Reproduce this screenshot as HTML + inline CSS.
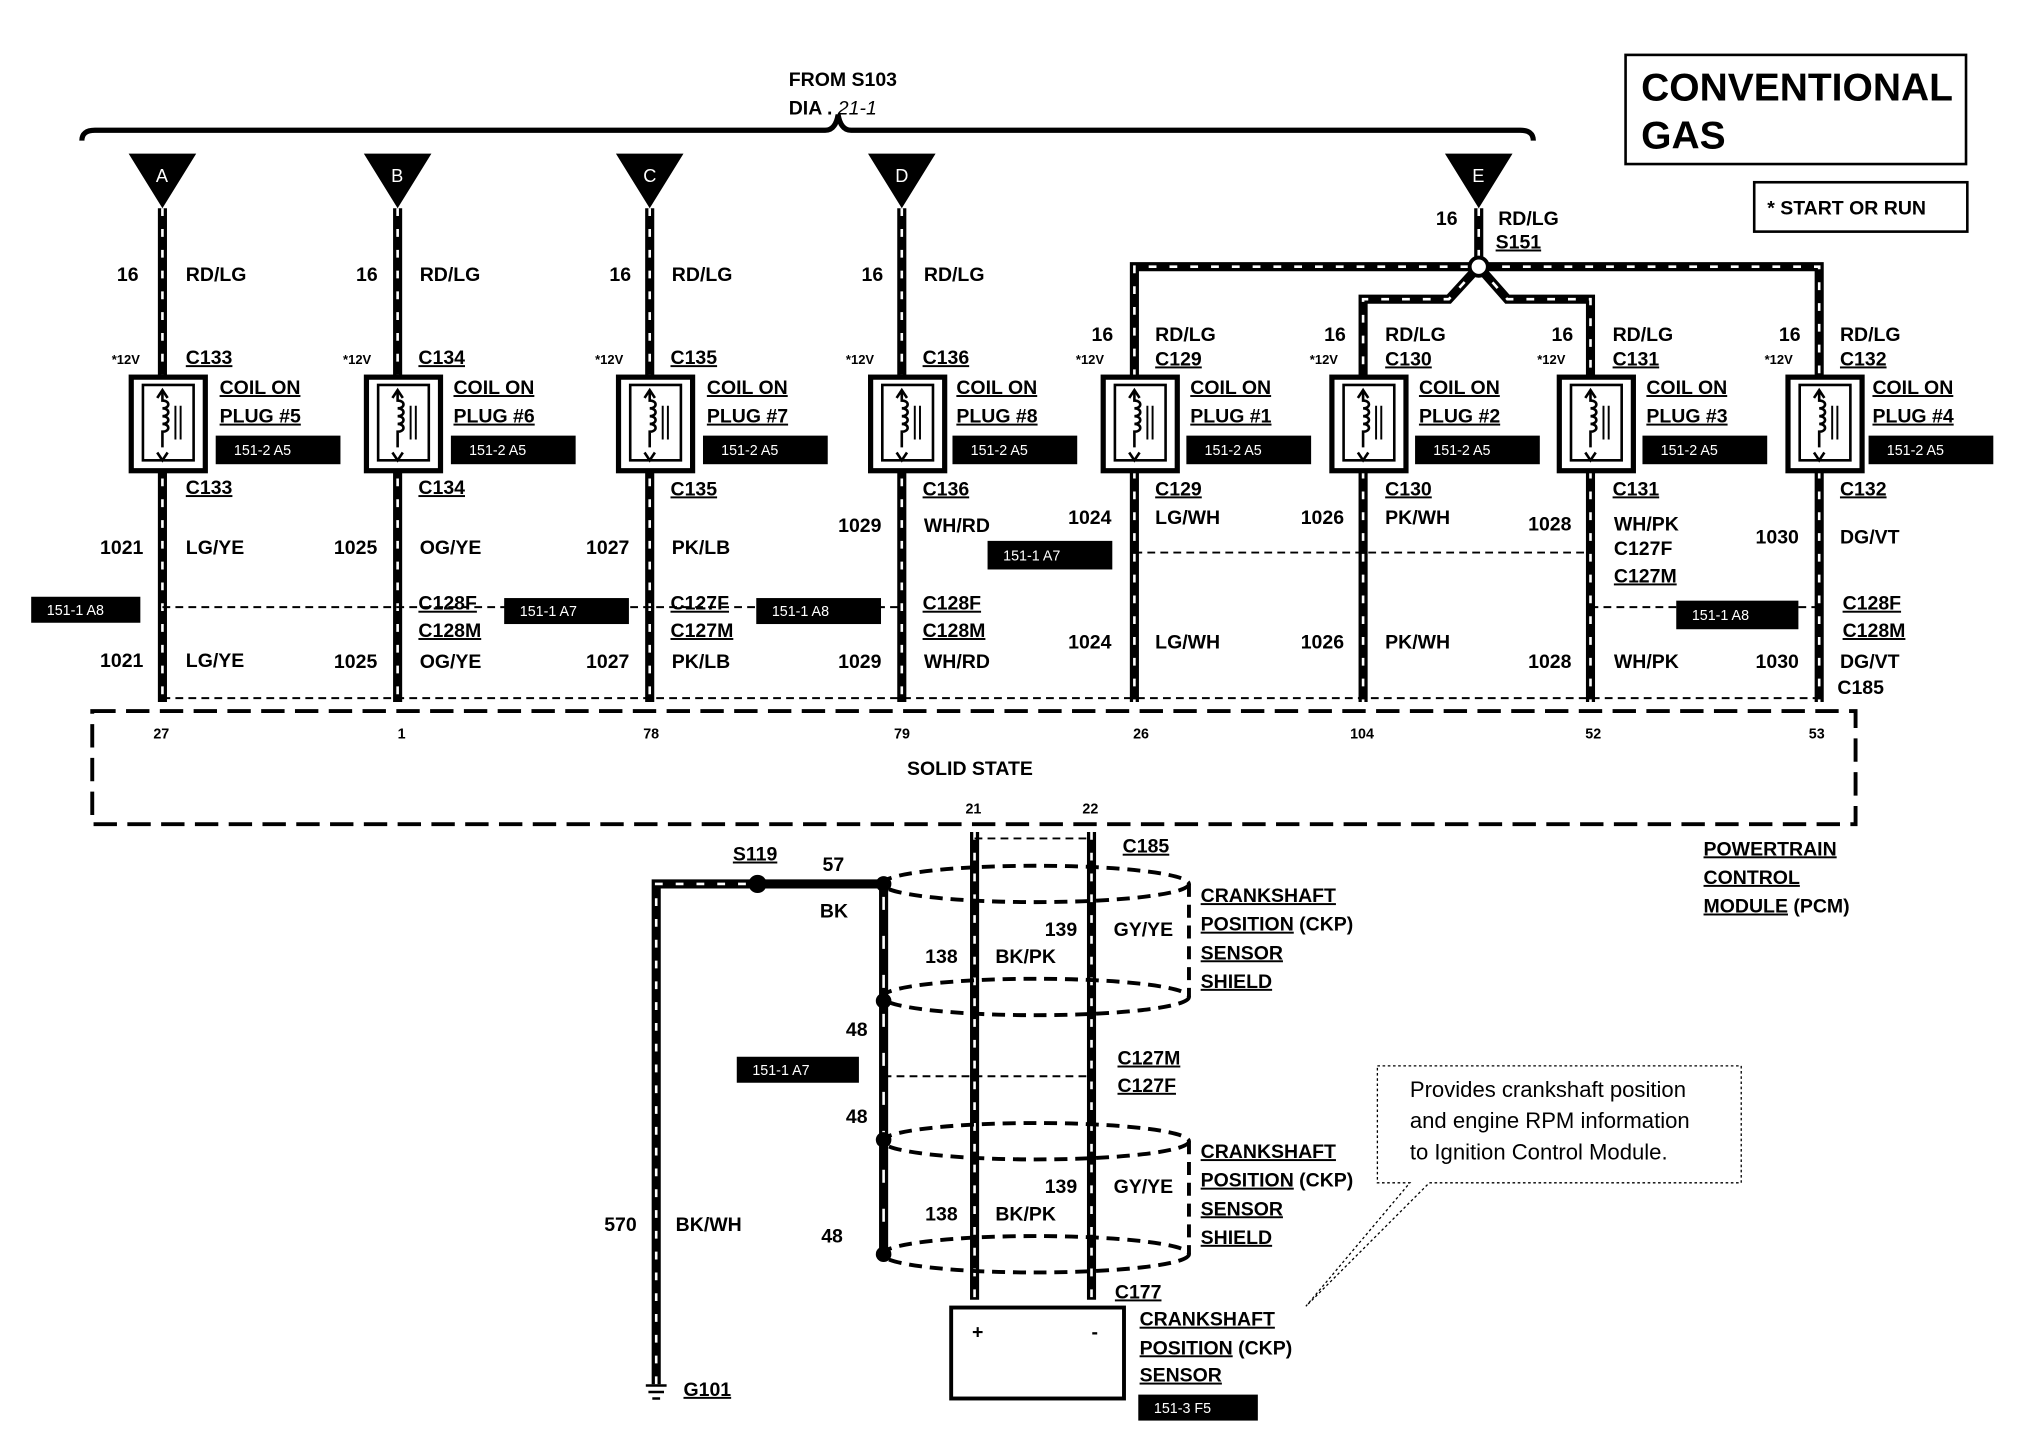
<!DOCTYPE html>
<html><head><meta charset="utf-8"><style>
html,body{margin:0;padding:0;background:#fff}
svg{display:block}
text{font-family:"Liberation Sans",sans-serif;font-weight:bold;fill:#000}
.s{font-size:15px}
.t{font-size:11px;fill:#fff;font-weight:normal}
.u{text-decoration:underline}
</style></head><body>
<svg width="2018" height="1456" viewBox="0 0 1553 1120" xmlns="http://www.w3.org/2000/svg">
<defs>
<g id="coil">
<rect x="-24" y="0" width="57" height="72" fill="#fff" stroke="#000" stroke-width="4"/>
<rect x="-15" y="6" width="39" height="58" fill="none" stroke="#000" stroke-width="2"/>
<path d="M0,10 v8 c6,0 6,6 0,6 c6,0 6,6 0,6 c6,0 6,6 0,6 c6,0 6,6 0,6 v12" fill="none" stroke="#000" stroke-width="2"/>
<path d="M10,22 v26 M14,22 v26" stroke="#000" stroke-width="1.5"/>
<path d="M-4,16 l4,-6 l4,6 M-4,58 l4,6 l4,-6" fill="none" stroke="#000" stroke-width="2"/>
</g>
</defs>
<rect width="1553" height="1120" fill="#fff"/>

<!-- header -->
<text x="607" y="66" class="s">FROM S103</text>
<text x="607" y="88" class="s">DIA . <tspan font-style="italic" font-weight="normal">21-1</tspan></text>
<path d="M63,108 q0,-8 10,-8 H635 q8,0 10,-12 q2,12 10,12 H1170 q10,0 10,8" fill="none" stroke="#000" stroke-width="4"/>
<rect x="1251" y="42" width="262" height="84" fill="none" stroke="#000" stroke-width="2"/>
<text x="1263" y="77" font-size="30">CONVENTIONAL</text>
<text x="1263" y="114" font-size="30">GAS</text>
<rect x="1350" y="140" width="164" height="38" fill="none" stroke="#000" stroke-width="2"/>
<text x="1360" y="165" class="s">* START OR RUN</text>

<!-- wires style groups -->
<g stroke="#000" stroke-width="7" fill="none">
<path d="M125,160V540 M306,160V540 M500,160V540 M694,160V540 M1138,160V205"/>
<path d="M873,290V205H1400V290 M1138,205L1115,230H1049V290 M1138,205L1160,230H1224V290"/>
<path d="M873,362V540 M1049,362V540 M1224,362V540 M1400,362V540"/>
<path d="M750,640V1000 M840,640V1000 M505,1065V680H680 M680,680V965"/>
</g>
<g stroke="#fff" stroke-width="2" fill="none" stroke-dasharray="6 10">
<path d="M125,160V540 M306,160V540 M500,160V540 M694,160V540 M1138,160V205"/>
<path d="M873,290V205H1400V290 M1138,205L1115,230H1049V290 M1138,205L1160,230H1224V290"/>
<path d="M873,362V540 M1049,362V540 M1224,362V540 M1400,362V540"/>
<path d="M750,640V1000 M840,640V1000 M505,1065V680H580"/>
<path d="M680,690V965" stroke-dasharray="10 20"/>
</g>
<circle cx="1138" cy="205" r="7" fill="#fff" stroke="#000" stroke-width="3"/>
<circle cx="583" cy="680" r="7" fill="#000"/>

<!-- triangles -->
<g fill="#000">
<path d="M99,118h52l-26,42z M280,118h52l-26,42z M474,118h52l-26,42z M668,118h52l-26,42z M1112,118h52l-26,42z"/>
</g>
<g fill="#fff" font-size="14" font-weight="normal">
<text x="120" y="140" style="fill:#fff;font-weight:normal">A</text>
<text x="301" y="140" style="fill:#fff;font-weight:normal">B</text>
<text x="495" y="140" style="fill:#fff;font-weight:normal">C</text>
<text x="689" y="140" style="fill:#fff;font-weight:normal">D</text>
<text x="1133" y="140" style="fill:#fff;font-weight:normal">E</text>
</g>

<!-- coils -->
<use href="#coil" x="125" y="290"/>
<use href="#coil" x="306" y="290"/>
<use href="#coil" x="500" y="290"/>
<use href="#coil" x="694" y="290"/>
<use href="#coil" x="873" y="290"/>
<use href="#coil" x="1049" y="290"/>
<use href="#coil" x="1224" y="290"/>
<use href="#coil" x="1400" y="290"/>

<!-- connector dashed lines -->
<g stroke="#000" stroke-width="1.5" stroke-dasharray="6 4" fill="none">
<path d="M125,467H694 M873,425H1224 M1224,467H1400 M125,537H1400"/>
</g>
<rect x="71" y="547" width="1357" height="87" fill="none" stroke="#000" stroke-width="3" stroke-dasharray="18 8"/>

<!-- top column labels -->
<g class="s">
<text x="90" y="216" class="s">16</text><text x="143" y="216" class="s">RD/LG</text>
<text x="274" y="216" class="s">16</text><text x="323" y="216" class="s">RD/LG</text>
<text x="469" y="216" class="s">16</text><text x="517" y="216" class="s">RD/LG</text>
<text x="663" y="216" class="s">16</text><text x="711" y="216" class="s">RD/LG</text>
<text x="1105" y="173" class="s">16</text><text x="1153" y="173" class="s">RD/LG</text><text x="1151" y="191" class="s u">S151</text>
<text x="840" y="262" class="s">16</text><text x="889" y="262" class="s">RD/LG</text>
<text x="1019" y="262" class="s">16</text><text x="1066" y="262" class="s">RD/LG</text>
<text x="1194" y="262" class="s">16</text><text x="1241" y="262" class="s">RD/LG</text>
<text x="1369" y="262" class="s">16</text><text x="1416" y="262" class="s">RD/LG</text>
</g>
<g font-size="10" font-weight="bold">
<text x="86" y="280">*12V</text><text x="264" y="280">*12V</text><text x="458" y="280">*12V</text><text x="651" y="280">*12V</text>
<text x="828" y="280">*12V</text><text x="1008" y="280">*12V</text><text x="1183" y="280">*12V</text><text x="1358" y="280">*12V</text>
</g>
<g>
<text x="143" y="280" class="s u">C133</text><text x="322" y="280" class="s u">C134</text><text x="516" y="280" class="s u">C135</text><text x="710" y="280" class="s u">C136</text>
<text x="889" y="281" class="s u">C129</text><text x="1066" y="281" class="s u">C130</text><text x="1241" y="281" class="s u">C131</text><text x="1416" y="281" class="s u">C132</text>
</g>
<!-- coil labels -->
<g>
<text x="169" y="303" class="s u">COIL ON</text><text x="169" y="325" class="s u">PLUG #5</text>
<text x="349" y="303" class="s u">COIL ON</text><text x="349" y="325" class="s u">PLUG #6</text>
<text x="544" y="303" class="s u">COIL ON</text><text x="544" y="325" class="s u">PLUG #7</text>
<text x="736" y="303" class="s u">COIL ON</text><text x="736" y="325" class="s u">PLUG #8</text>
<text x="916" y="303" class="s u">COIL ON</text><text x="916" y="325" class="s u">PLUG #1</text>
<text x="1092" y="303" class="s u">COIL ON</text><text x="1092" y="325" class="s u">PLUG #2</text>
<text x="1267" y="303" class="s u">COIL ON</text><text x="1267" y="325" class="s u">PLUG #3</text>
<text x="1441" y="303" class="s u">COIL ON</text><text x="1441" y="325" class="s u">PLUG #4</text>
</g>
<g fill="#000">
<rect x="166" y="335" width="96" height="22"/><rect x="347" y="335" width="96" height="22"/>
<rect x="541" y="335" width="96" height="22"/><rect x="733" y="335" width="96" height="22"/>
<rect x="913" y="335" width="96" height="22"/><rect x="1089" y="335" width="96" height="22"/>
<rect x="1264" y="335" width="96" height="22"/><rect x="1438" y="335" width="96" height="22"/>
<rect x="24" y="459" width="84" height="20"/><rect x="388" y="460" width="96" height="20"/>
<rect x="582" y="460" width="96" height="20"/><rect x="760" y="416" width="96" height="22"/>
<rect x="1290" y="462" width="94" height="22"/><rect x="567" y="813" width="94" height="20"/>
<rect x="876" y="1073" width="92" height="20"/>
</g>
<g>
<text x="180" y="350" class="t">151-2 A5</text><text x="361" y="350" class="t">151-2 A5</text>
<text x="555" y="350" class="t">151-2 A5</text><text x="747" y="350" class="t">151-2 A5</text>
<text x="927" y="350" class="t">151-2 A5</text><text x="1103" y="350" class="t">151-2 A5</text>
<text x="1278" y="350" class="t">151-2 A5</text><text x="1452" y="350" class="t">151-2 A5</text>
<text x="36" y="473" class="t">151-1 A8</text><text x="400" y="474" class="t">151-1 A7</text>
<text x="594" y="474" class="t">151-1 A8</text><text x="772" y="431" class="t">151-1 A7</text>
<text x="1302" y="477" class="t">151-1 A8</text><text x="579" y="827" class="t">151-1 A7</text>
<text x="888" y="1087" class="t">151-3 F5</text>
</g>

<!-- lower labels -->
<g>
<text x="143" y="380" class="s u">C133</text><text x="322" y="380" class="s u">C134</text><text x="516" y="381" class="s u">C135</text><text x="710" y="381" class="s u">C136</text>
<text x="889" y="381" class="s u">C129</text><text x="1066" y="381" class="s u">C130</text><text x="1241" y="381" class="s u">C131</text><text x="1416" y="381" class="s u">C132</text>
<text x="77" y="426" class="s">1021</text><text x="143" y="426" class="s">LG/YE</text>
<text x="257" y="426" class="s">1025</text><text x="323" y="426" class="s">OG/YE</text>
<text x="451" y="426" class="s">1027</text><text x="517" y="426" class="s">PK/LB</text>
<text x="645" y="409" class="s">1029</text><text x="711" y="409" class="s">WH/RD</text>
<text x="822" y="403" class="s">1024</text><text x="889" y="403" class="s">LG/WH</text>
<text x="1001" y="403" class="s">1026</text><text x="1066" y="403" class="s">PK/WH</text>
<text x="1176" y="408" class="s">1028</text><text x="1242" y="408" class="s">WH/PK</text>
<text x="1242" y="427" class="s">C127F</text><text x="1242" y="448" class="s u">C127M</text>
<text x="1351" y="418" class="s">1030</text><text x="1416" y="418" class="s">DG/VT</text>
<text x="322" y="469" class="s u">C128F</text><text x="322" y="490" class="s u">C128M</text>
<text x="516" y="469" class="s u">C127F</text><text x="516" y="490" class="s u">C127M</text>
<text x="710" y="469" class="s u">C128F</text><text x="710" y="490" class="s u">C128M</text>
<text x="1418" y="469" class="s u">C128F</text><text x="1418" y="490" class="s u">C128M</text>
<text x="77" y="513" class="s">1021</text><text x="143" y="513" class="s">LG/YE</text>
<text x="257" y="514" class="s">1025</text><text x="323" y="514" class="s">OG/YE</text>
<text x="451" y="514" class="s">1027</text><text x="517" y="514" class="s">PK/LB</text>
<text x="645" y="514" class="s">1029</text><text x="711" y="514" class="s">WH/RD</text>
<text x="822" y="499" class="s">1024</text><text x="889" y="499" class="s">LG/WH</text>
<text x="1001" y="499" class="s">1026</text><text x="1066" y="499" class="s">PK/WH</text>
<text x="1176" y="514" class="s">1028</text><text x="1242" y="514" class="s">WH/PK</text>
<text x="1351" y="514" class="s">1030</text><text x="1416" y="514" class="s">DG/VT</text>
<text x="1414" y="534" class="s">C185</text>
</g>
<g font-size="11">
<text x="118" y="568">27</text><text x="306" y="568">1</text><text x="495" y="568">78</text><text x="688" y="568">79</text>
<text x="872" y="568">26</text><text x="1039" y="568">104</text><text x="1220" y="568">52</text><text x="1392" y="568">53</text>
<text x="743" y="626">21</text><text x="833" y="626">22</text>
</g>
<text x="698" y="596" class="s">SOLID STATE</text>
<text x="1311" y="658" class="s u">POWERTRAIN</text><text x="1311" y="680" class="s u">CONTROL</text><text x="1311" y="702" class="s"><tspan class="u">MODULE</tspan> (PCM)</text>

<!-- CKP section -->
<g fill="none" stroke="#000" stroke-width="3" stroke-dasharray="10 6">
<ellipse cx="797" cy="680" rx="118" ry="14"/>
<ellipse cx="797" cy="767" rx="118" ry="14"/>
<ellipse cx="797" cy="878" rx="118" ry="14"/>
<ellipse cx="797" cy="965" rx="118" ry="14"/>
<path d="M915,680V767 M915,878V965"/>
</g>
<g stroke="#000" stroke-width="1.5" stroke-dasharray="6 4" fill="none"><path d="M750,645H840 M680,828H840"/></g>
<circle cx="680" cy="680" r="6" fill="#000"/><circle cx="680" cy="770" r="6" fill="#000"/>
<circle cx="680" cy="877" r="6" fill="#000"/><circle cx="680" cy="965" r="6" fill="#000"/>
<text x="564" y="662" class="s u">S119</text>
<text x="633" y="670" class="s">57</text><text x="631" y="706" class="s">BK</text>
<text x="864" y="656" class="s u">C185</text>
<text x="804" y="720" class="s">139</text><text x="857" y="720" class="s">GY/YE</text>
<text x="712" y="741" class="s">138</text><text x="766" y="741" class="s">BK/PK</text>
<text x="924" y="694" class="s u">CRANKSHAFT</text><text x="924" y="716" class="s"><tspan class="u">POSITION</tspan> (CKP)</text>
<text x="924" y="738" class="s u">SENSOR</text><text x="924" y="760" class="s u">SHIELD</text>
<text x="651" y="797" class="s">48</text>
<text x="860" y="819" class="s u">C127M</text><text x="860" y="840" class="s u">C127F</text>
<text x="651" y="864" class="s">48</text>
<text x="804" y="918" class="s">139</text><text x="857" y="918" class="s">GY/YE</text>
<text x="712" y="939" class="s">138</text><text x="766" y="939" class="s">BK/PK</text>
<text x="924" y="891" class="s u">CRANKSHAFT</text><text x="924" y="913" class="s"><tspan class="u">POSITION</tspan> (CKP)</text>
<text x="924" y="935" class="s u">SENSOR</text><text x="924" y="957" class="s u">SHIELD</text>
<text x="632" y="956" class="s">48</text>
<text x="465" y="947" class="s">570</text><text x="520" y="947" class="s">BK/WH</text>
<text x="858" y="999" class="s u">C177</text>
<rect x="732" y="1006" width="133" height="70" fill="none" stroke="#000" stroke-width="3"/>
<text x="748" y="1030" class="s">+</text><text x="840" y="1030" class="s">-</text>
<text x="877" y="1020" class="s u">CRANKSHAFT</text><text x="877" y="1042" class="s"><tspan class="u">POSITION</tspan> (CKP)</text>
<text x="877" y="1063" class="s u">SENSOR</text>
<path d="M497,1066h16 M499,1071h12 M502,1076h6" stroke="#000" stroke-width="2"/>
<text x="526" y="1074" class="s u">G101</text>

<!-- callout -->
<path d="M1060,820H1340V910H1100L1005,1005L1085,910H1060Z" fill="#fff" stroke="#000" stroke-width="1" stroke-dasharray="2 2"/>
<text x="1085" y="844" font-size="17" style="font-weight:normal">Provides crankshaft position</text>
<text x="1085" y="868" font-size="17" style="font-weight:normal">and engine RPM information</text>
<text x="1085" y="892" font-size="17" style="font-weight:normal">to Ignition Control Module.</text>
</svg>
</body></html>
